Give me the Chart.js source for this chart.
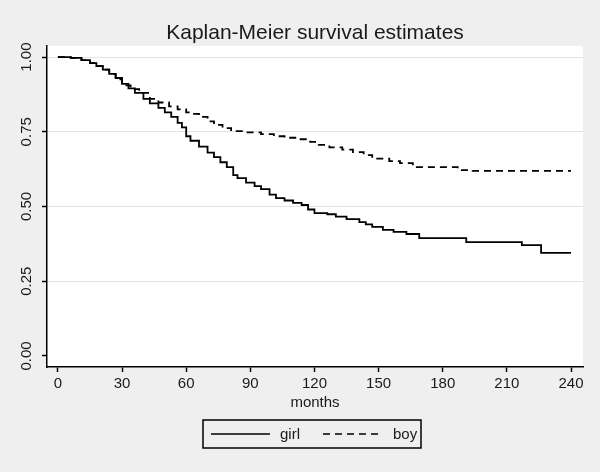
<!DOCTYPE html>
<html>
<head>
<meta charset="utf-8">
<title>Kaplan-Meier survival estimates</title>
<script src="https://cdn.jsdelivr.net/npm/chart.js@4/dist/chart.umd.min.js"></script>
<style>
  html, body { margin: 0; padding: 0; background: #efefef; }
  canvas { display: block; }
</style>
</head>
<body>
<canvas id="km" width="600" height="472"></canvas>
<script>
'use strict';

// survival estimates (months, S(t))
var girlTime = [0, 6, 11, 15, 18, 21, 24, 27, 30, 33, 36, 40, 43, 47, 50, 53, 56, 58, 60, 62, 66, 70, 73, 76, 79, 82, 84, 88, 92, 95, 99, 102, 106, 110, 114, 117, 120, 126, 130, 135, 141, 144, 147, 152, 157, 163, 169, 191, 217, 226, 240];
var girlSurv = [1.0, 0.997, 0.99, 0.98, 0.97, 0.958, 0.944, 0.93, 0.91, 0.895, 0.88, 0.86, 0.845, 0.83, 0.815, 0.80, 0.78, 0.765, 0.735, 0.72, 0.70, 0.68, 0.665, 0.648, 0.632, 0.605, 0.595, 0.58, 0.568, 0.558, 0.54, 0.528, 0.52, 0.512, 0.505, 0.49, 0.478, 0.474, 0.466, 0.458, 0.448, 0.44, 0.432, 0.422, 0.415, 0.408, 0.394, 0.381, 0.371, 0.345, 0.345];

var boyTime = [0, 6, 11, 15, 18, 21, 24, 27, 30, 34, 38, 43, 47, 52, 56, 60, 63, 66, 70, 73, 77, 81, 88, 95, 101, 106, 112, 118, 122, 127, 133, 138, 143, 147, 155, 160, 166, 187, 194, 240];
var boySurv = [1.0, 0.997, 0.99, 0.98, 0.97, 0.958, 0.944, 0.925, 0.905, 0.893, 0.88, 0.86, 0.848, 0.835, 0.825, 0.815, 0.81, 0.80, 0.785, 0.773, 0.762, 0.752, 0.748, 0.742, 0.735, 0.73, 0.725, 0.716, 0.706, 0.698, 0.69, 0.682, 0.672, 0.66, 0.652, 0.645, 0.632, 0.622, 0.619, 0.619];

var seriesNames = ['girl', 'boy'];
var xTickLabels = ['0', '30', '60', '90', '120', '150', '180', '210', '240'];
var yTickLabels = ['0.00', '0.25', '0.50', '0.75', '1.00'];

var titleText = 'Kaplan-Meier survival estimates';
var xTitle = 'months';
var FONT = '"Liberation Sans", Arial, sans-serif';

function toPoints(t, s) {
  return t.map(function (v, i) { return { x: v, y: s[i] }; });
}

// white plot region, title on top, boxed legend under the axis
var stataFrame = {
  id: 'stataFrame',
  beforeDraw: function (chart) {
    var ctx = chart.ctx, a = chart.chartArea;
    ctx.save();
    ctx.fillStyle = '#ffffff';
    ctx.fillRect(a.left, a.top, a.right - a.left, a.bottom - a.top);
    ctx.restore();
  },
  afterDraw: function (chart) {
    var ctx = chart.ctx, a = chart.chartArea;
    ctx.save();
    ctx.fillStyle = '#1a1a1a';
    ctx.font = '21px ' + FONT;
    ctx.textAlign = 'center';
    ctx.textBaseline = 'middle';
    ctx.fillText(titleText, (a.left + a.right) / 2, 33);

    // legend
    var bx = 203, by = 420, bw = 218, bh = 28, ly = by + bh / 2;
    ctx.strokeStyle = '#000';
    ctx.lineWidth = 1.5;
    ctx.strokeRect(bx, by, bw, bh);

    var items = [
      { x0: 211, x1: 270, tx: 280 },
      { x0: 323, x1: 382, tx: 393 }
    ];
    chart.data.datasets.forEach(function (ds, i) {
      var it = items[i];
      ctx.beginPath();
      ctx.setLineDash(ds.borderDash || []);
      ctx.lineWidth = 1.5;
      ctx.moveTo(it.x0, ly);
      ctx.lineTo(it.x1, ly);
      ctx.stroke();
      ctx.setLineDash([]);
      ctx.font = '15px ' + FONT;
      ctx.textAlign = 'left';
      ctx.fillText(ds.label, it.tx, ly + 1);
    });
    ctx.restore();
  }
};

var ctx = document.getElementById('km').getContext('2d');

var chart = new Chart(ctx, {
  type: 'line',
  data: {
    datasets: [{
      label: seriesNames[0],
      data: toPoints(girlTime, girlSurv),
      borderColor: '#000',
      borderWidth: 1.8,
      pointRadius: 0,
      stepped: true,
      fill: false
    },
    {
      label: seriesNames[1],
      data: toPoints(boyTime, boySurv),
      borderColor: '#000',
      borderWidth: 1.8,
      borderDash: [7, 5],
      pointRadius: 0,
      stepped: true,
      fill: false
    }]
  },
  options: {
    responsive: false,
    animation: false,
    layout: { padding: { left: 0, right: 17, top: 46, bottom: 0 } },
    plugins: {
      legend: { display: false },
      title: { display: false },
      tooltip: { enabled: false }
    },
    scales: {
      x: {
        type: 'linear',
        min: -5.1,
        max: 245.6,
        afterBuildTicks: function (scale) {
          scale.ticks = xTickLabels.map(function (v) { return { value: Number(v) }; });
        },
        afterFit: function (scale) { scale.height = 105; },
        ticks: {
          autoSkip: false,
          maxRotation: 0,
          padding: 3,
          color: '#1a1a1a',
          font: { family: FONT, size: 15 },
          callback: function (v) { return xTickLabels[xTickLabels.indexOf(String(v))] || String(v); }
        },
        grid: {
          drawOnChartArea: false,
          tickLength: 5,
          tickColor: '#000',
          tickWidth: 1.5
        },
        border: { color: '#000', width: 1.5 },
        title: {
          display: true,
          text: xTitle,
          color: '#1a1a1a',
          font: { family: FONT, size: 15, lineHeight: 1.2 },
          padding: { top: 0, bottom: 60 }
        }
      },
      y: {
        type: 'linear',
        min: -0.037,
        max: 1.037,
        afterBuildTicks: function (scale) {
          scale.ticks = yTickLabels.map(function (v) { return { value: Number(v) }; });
        },
        afterFit: function (scale) { scale.width = 47; },
        ticks: {
          autoSkip: false,
          minRotation: 90,
          maxRotation: 90,
          crossAlign: 'center',
          padding: 1,
          color: '#1a1a1a',
          font: { family: FONT, size: 15 },
          callback: function (v) { return Number(v).toFixed(2); }
        },
        grid: {
          color: function (c) { return c.tick && c.tick.value === 0 ? 'rgba(0,0,0,0)' : '#e3e3e3'; },
          lineWidth: 1,
          tickLength: 5,
          tickColor: '#000',
          tickWidth: 1.5
        },
        border: { color: '#000', width: 1.5 }
      }
    }
  },
  plugins: [stataFrame]
});
</script>
</body>
</html>
